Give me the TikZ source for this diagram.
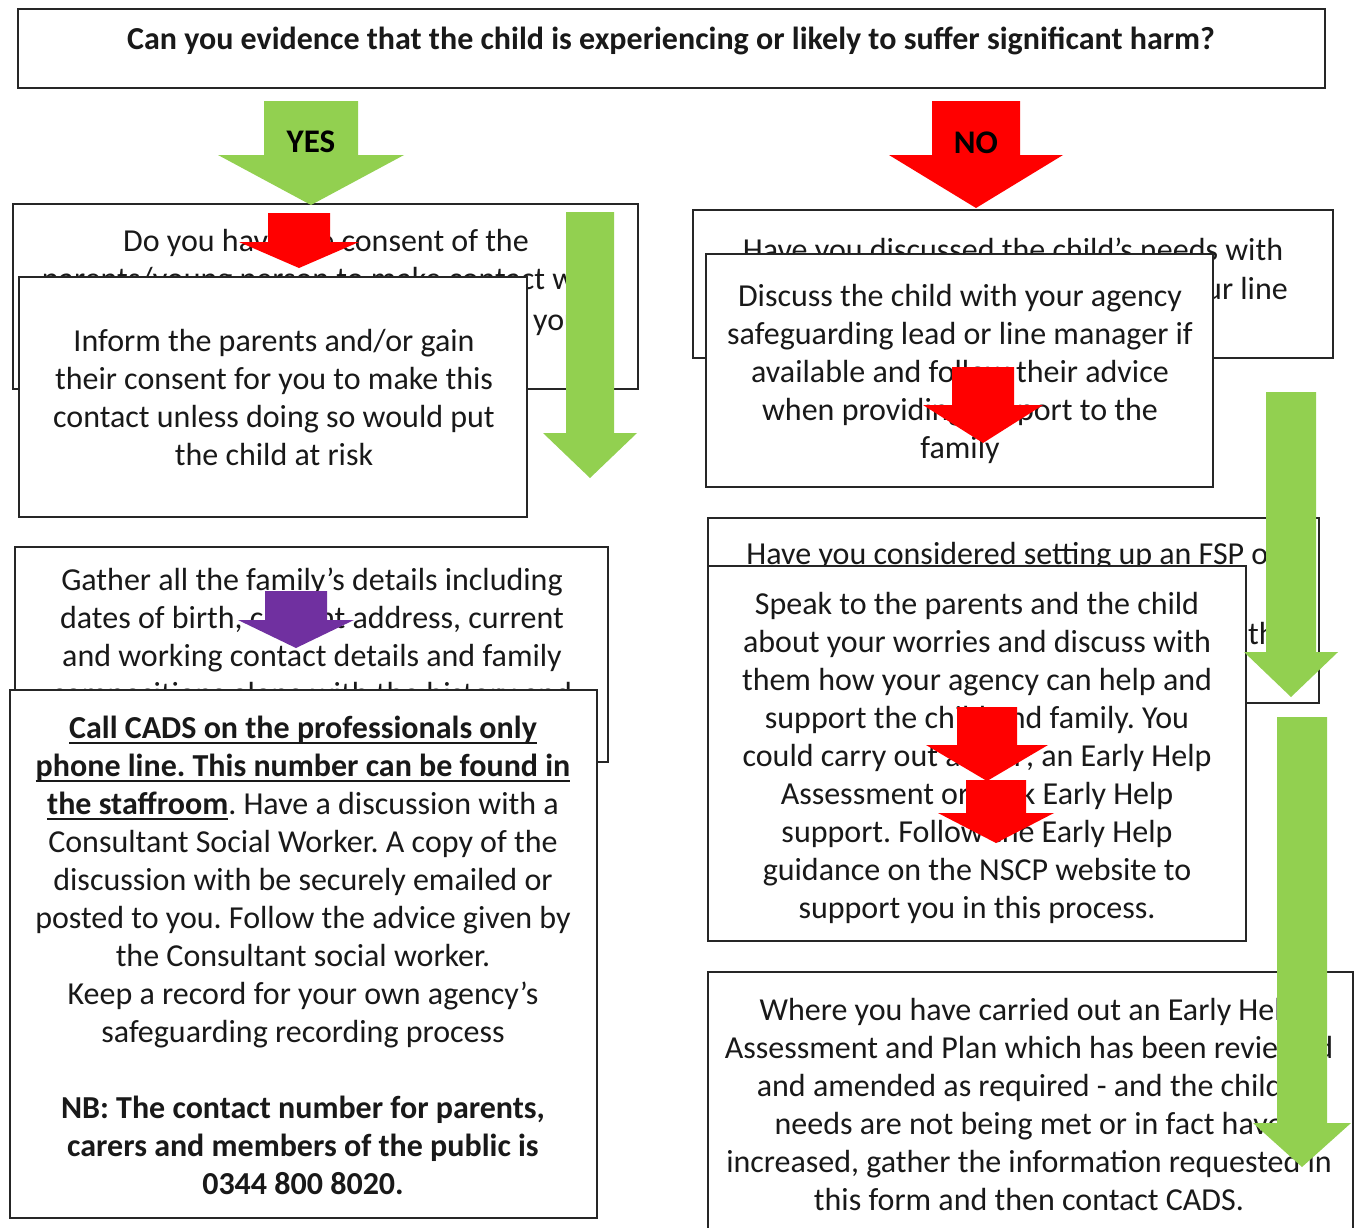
\documentclass[tikz,border=0pt]{standalone}
\usepackage{fontspec}
\setmainfont{Carlito}
\definecolor{agreen}{HTML}{92D050}
\definecolor{ared}{HTML}{FF0000}
\definecolor{apurple}{HTML}{7030A0}
\newcommand{\barrow}[7]{\fill[#1] (#2-#6,#3) -- (#2+#6,#3) -- (#2+#6,#4) -- (#2+#7,#4) -- (#2,#5) -- (#2-#7,#4) -- (#2-#6,#4) -- cycle;}
\newcommand{\ulx}[1]{\setbox0\hbox{#1}\rlap{\rule[-5pt]{\wd0}{2pt}}\box0}
\frenchspacing
\begin{document}
\begin{tikzpicture}[x=1pt,y=-1pt,
 box/.style={draw=black!85, line width=2.8pt, fill=white, anchor=north west, inner sep=0pt, outer sep=0pt},
 txt/.style={inner sep=0pt, align=center, yshift=-5pt, font=\fontsize{32}{38}\selectfont\frenchspacing, execute at begin node=\strut, execute at end node=\strut, text=black!90},
 lbl/.style={inner sep=0pt, font=\fontsize{33}{38}\selectfont\bfseries}]
\useasboundingbox (0,0) rectangle (1359,1227);
\clip (0,0) rectangle (1359,1227);
\fill[white] (0,0) rectangle (1359,1227);

% title
\node[box, minimum width=1307pt, minimum height=79pt] (bt) at (18,9) {};
\node[txt, yshift=1pt, font=\fontsize{32}{38}\selectfont\bfseries] (tt) at (671,38) {Can you evidence that the child is experiencing or likely to suffer significant harm?};

% YES side
\node[box, minimum width=625pt, minimum height=185pt] (b4) at (13,204) {};
\node[txt] (t4) at (326,260.5) {Do you have the consent of the\\parents/young person to make contact with};
\node[txt, anchor=west] (t4b) at (533,318) {you};
\node[box, minimum width=508pt, minimum height=240pt] (b5) at (19,277) {};
\node[txt] (t5) at (274,398.5) {Inform the parents and/or gain\\their consent for you to make this\\contact unless doing so would put\\the child at risk};
\barrow{ared}{299}{213}{242}{268}{31}{60}
\barrow{agreen}{590}{212}{433}{478}{24}{47}
\barrow{agreen}{311}{101}{155}{205}{47}{93}
\node[lbl] (yes) at (311,142) {YES};

% NO side
\node[box, minimum width=640pt, minimum height=148pt] (b6) at (693,210) {};
\node[txt] (t6) at (1013,248) {Have you discussed the child's needs with};
\node[txt, anchor=east] (t6b) at (1288,287) {your line};
\node[box, minimum width=507pt, minimum height=233pt] (b7) at (706,254) {};
\node[txt] (t7) at (960,372) {Discuss the child with your agency\\safeguarding lead or line manager if\\available and follow their advice\\when providing support to the\\family};
\barrow{ared}{983}{367}{405}{443}{31}{60}
\barrow{ared}{976}{101}{155}{208}{44}{87}
\node[lbl] (no) at (976,143) {NO};

\node[box, minimum width=611pt, minimum height=185pt] (b8) at (708,518) {};
\node[txt] (t8) at (1013,552) {Have you considered setting up an FSP or};
\node[txt, anchor=west] (t8b) at (1248,632) {the};
\node[box, minimum width=538pt, minimum height=375pt] (b9) at (708,566) {};
\node[txt] (t9) at (977,756.5) {Speak to the parents and the child\\about your worries and discuss with\\them how your agency can help and\\support the child and family. You\\could carry out an FSP, an Early Help\\Assessment or seek Early Help\\support. Follow the Early Help\\guidance on the NSCP website to\\support you in this process.};
\barrow{ared}{987}{707}{745}{781}{30}{61}
\barrow{ared}{996}{780}{813}{843}{30}{58}
\barrow{agreen}{1291}{392}{652}{697}{25}{47}

\node[box, minimum width=645pt, minimum height=280pt] (b10) at (708,972) {};
\node[txt] (t10) at (1029,1105.5) {Where you have carried out an Early Help\\Assessment and Plan which has been reviewed\\and amended as required - and the child's\\needs are not being met or in fact have\\increased, gather the information requested in\\this form and then contact CADS.};
\barrow{agreen}{1302}{717}{1123}{1167}{25}{49}

% lower left
\node[box, minimum width=593pt, minimum height=215pt] (b11) at (15,547) {};
\node[txt] (t11) at (312,637) {Gather all the family’s details including\\dates of birth, current address, current\\and working contact details and family\\compositions along with the history and};
\barrow{apurple}{296}{591}{620}{648}{31}{58}
\node[box, minimum width=587pt, minimum height=528pt] (b12) at (10,690) {};
\node[txt] (t12) at (303,956) {\ulx{\textbf{Call CADS on the professionals only}}\\\ulx{\textbf{phone line. This number can be found in}}\\\ulx{\textbf{the staffroom}}. Have a discussion with a\\Consultant Social Worker. A copy of the\\discussion with be securely emailed or\\posted to you. Follow the advice given by\\the Consultant social worker.\\Keep a record for your own agency’s\\safeguarding recording process\\[38pt]\textbf{NB: The contact number for parents,}\\\textbf{carers and members of the public is}\\\textbf{0344 800 8020.}};
\end{tikzpicture}
\end{document}
